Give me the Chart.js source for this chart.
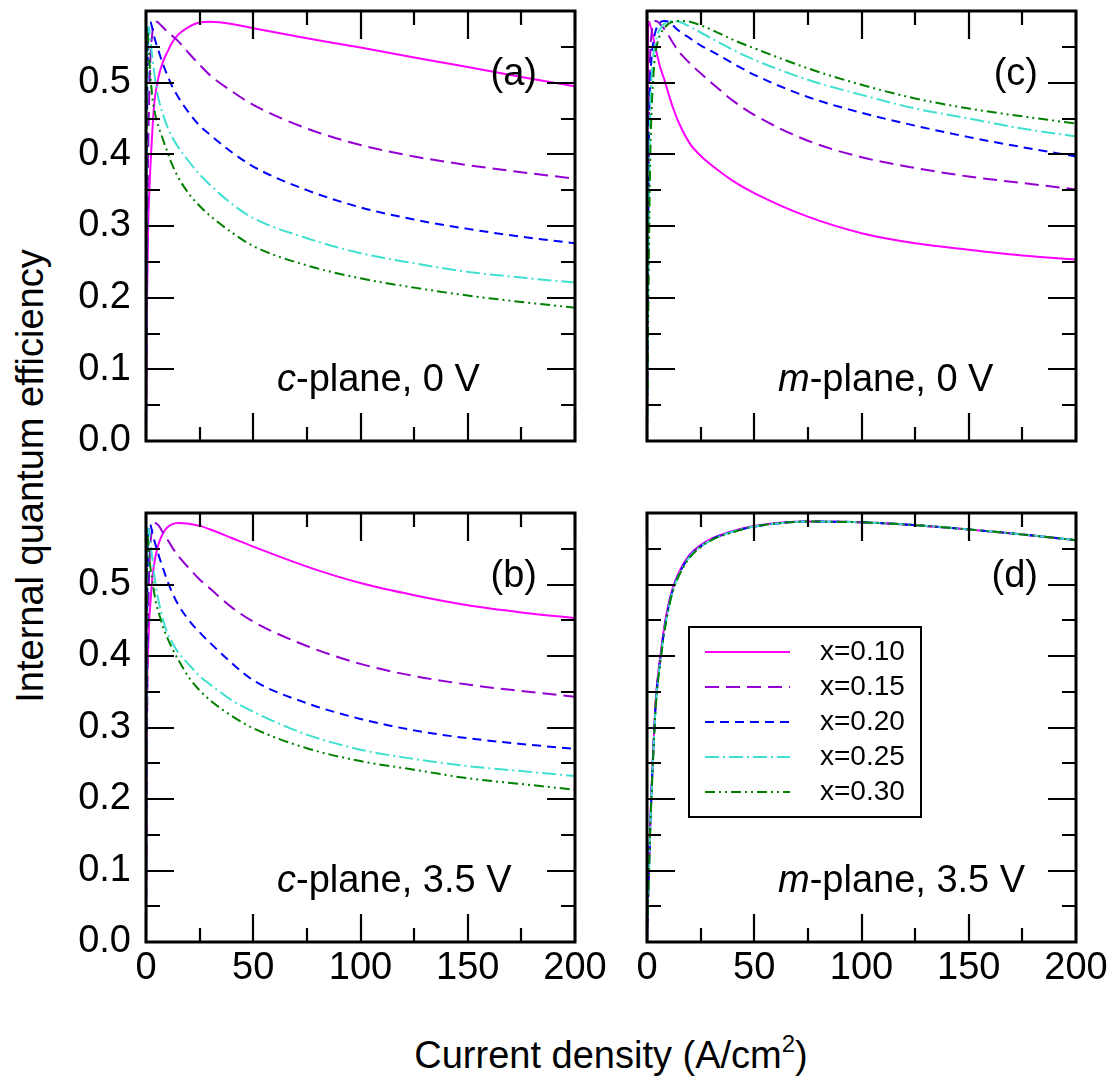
<!DOCTYPE html>
<html>
<head>
<meta charset="utf-8">
<script src="https://cdn.jsdelivr.net/npm/chart.js@4.4.1/dist/chart.umd.min.js"></script>
<style>
html, body { margin: 0; padding: 0; background: #fff; overflow: hidden; }
#wrap { position: relative; width: 1113px; height: 1085px; }
#wrap canvas { position: absolute; left: 0; top: 0; }
.title { position: absolute; font-family: 'Liberation Sans', Arial, Helvetica, sans-serif; font-size: 38px; color: #000; text-align: center; white-space: nowrap; line-height: 44px; }
#ytitle { left: -370px; top: 454px; width: 800px; transform: rotate(-90deg); }
#xtitle { left: 211px; top: 1033px; width: 800px; }
#xtitle sup { font-size: 24px; vertical-align: 16px; line-height: 0; }
</style>
</head>
<body>
<div id="wrap">
  <div id="ytitle" class="title">Internal quantum efficiency</div>
  <div id="xtitle" class="title">Current density (A/cm<sup>2</sup>)</div>
</div>
<script>
// current density grid (A/cm2), shared by every curve
var currentDensity = [0, 0.25, 0.5, 1, 1.5, 2, 3, 4, 5, 6, 8, 10, 12, 15, 20, 25, 30, 40, 50, 75, 100, 125, 150, 175, 200];

var seriesLabels = ['x=0.10', 'x=0.15', 'x=0.20', 'x=0.25', 'x=0.30'];

var xTickValues = [0, 50, 100, 150, 200];
var xTickLabels = ['0', '50', '100', '150', '200'];
var yTickValues = [0, 0.1, 0.2, 0.3, 0.4, 0.5];
var yTickLabels = ['0.0', '0.1', '0.2', '0.3', '0.4', '0.5'];

// (a) c-plane, 0 V
var cPlane0V_x10 = [0, 0.10, 0.20, 0.30, 0.345, 0.38, 0.435, 0.475, 0.495, 0.51, 0.53, 0.543, 0.555, 0.567, 0.578, 0.584, 0.585, 0.582, 0.576, 0.562, 0.549, 0.535, 0.522, 0.508, 0.495];
var cPlane0V_x15 = [0, 0.12, 0.25, 0.40, 0.48, 0.53, 0.57, 0.583, 0.585, 0.583, 0.577, 0.571, 0.566, 0.558, 0.541, 0.525, 0.51, 0.488, 0.469, 0.436, 0.413, 0.397, 0.385, 0.375, 0.366];
var cPlane0V_x20 = [0, 0.30, 0.45, 0.56, 0.583, 0.585, 0.575, 0.562, 0.552, 0.543, 0.525, 0.51, 0.496, 0.48, 0.458, 0.44, 0.427, 0.403, 0.383, 0.35, 0.326, 0.309, 0.296, 0.285, 0.276];
var cPlane0V_x25 = [0, 0.35, 0.50, 0.578, 0.575, 0.56, 0.535, 0.51, 0.49, 0.475, 0.455, 0.438, 0.425, 0.41, 0.39, 0.372, 0.357, 0.331, 0.311, 0.283, 0.262, 0.248, 0.236, 0.228, 0.221];
var cPlane0V_x30 = [0, 0.45, 0.575, 0.56, 0.535, 0.512, 0.478, 0.46, 0.447, 0.437, 0.42, 0.403, 0.387, 0.368, 0.345, 0.328, 0.314, 0.291, 0.272, 0.245, 0.227, 0.214, 0.203, 0.194, 0.186];

// (b) c-plane, 3.5 V
var cPlane35V_x10 = [0, 0.20, 0.35, 0.41, 0.45, 0.472, 0.51, 0.532, 0.547, 0.558, 0.572, 0.58, 0.584, 0.586, 0.585, 0.582, 0.577, 0.565, 0.553, 0.525, 0.502, 0.485, 0.471, 0.461, 0.453];
var cPlane35V_x15 = [0, 0.15, 0.30, 0.45, 0.52, 0.555, 0.578, 0.586, 0.585, 0.582, 0.572, 0.563, 0.553, 0.54, 0.523, 0.507, 0.494, 0.468, 0.448, 0.414, 0.389, 0.372, 0.36, 0.351, 0.343];
var cPlane35V_x20 = [0, 0.30, 0.45, 0.56, 0.585, 0.584, 0.572, 0.56, 0.55, 0.54, 0.522, 0.505, 0.49, 0.472, 0.45, 0.433, 0.418, 0.39, 0.366, 0.334, 0.312, 0.296, 0.285, 0.277, 0.27];
var cPlane35V_x25 = [0, 0.35, 0.50, 0.578, 0.575, 0.56, 0.535, 0.51, 0.49, 0.475, 0.45, 0.432, 0.42, 0.405, 0.388, 0.372, 0.36, 0.338, 0.322, 0.29, 0.269, 0.256, 0.246, 0.239, 0.232];
var cPlane35V_x30 = [0, 0.45, 0.575, 0.56, 0.54, 0.525, 0.505, 0.485, 0.47, 0.46, 0.44, 0.425, 0.412, 0.395, 0.37, 0.352, 0.338, 0.316, 0.299, 0.271, 0.253, 0.241, 0.229, 0.221, 0.213];

// (c) m-plane, 0 V
var mPlane0V_x10 = [0, 0.45, 0.58, 0.585, 0.58, 0.575, 0.562, 0.548, 0.535, 0.523, 0.505, 0.485, 0.466, 0.443, 0.415, 0.398, 0.385, 0.363, 0.346, 0.313, 0.29, 0.276, 0.267, 0.259, 0.253];
var mPlane0V_x15 = [0, 0.15, 0.30, 0.47, 0.54, 0.565, 0.582, 0.586, 0.585, 0.582, 0.575, 0.566, 0.556, 0.543, 0.527, 0.513, 0.50, 0.475, 0.455, 0.419, 0.396, 0.381, 0.369, 0.36, 0.351];
var mPlane0V_x20 = [0, 0.15, 0.28, 0.45, 0.50, 0.53, 0.558, 0.572, 0.58, 0.584, 0.586, 0.585, 0.58, 0.572, 0.562, 0.552, 0.544, 0.527, 0.511, 0.48, 0.458, 0.44, 0.424, 0.41, 0.397];
var mPlane0V_x25 = [0, 0.10, 0.20, 0.36, 0.46, 0.50, 0.538, 0.556, 0.568, 0.575, 0.582, 0.585, 0.586, 0.585, 0.578, 0.57, 0.562, 0.546, 0.532, 0.504, 0.483, 0.464, 0.45, 0.436, 0.425];
var mPlane0V_x30 = [0, 0.07, 0.15, 0.29, 0.39, 0.45, 0.51, 0.542, 0.557, 0.566, 0.576, 0.582, 0.585, 0.586, 0.585, 0.58, 0.574, 0.56, 0.548, 0.52, 0.497, 0.478, 0.464, 0.453, 0.443];

// (d) m-plane, 3.5 V
var mPlane35V_x10 = [0, 0.035, 0.065, 0.115, 0.165, 0.205, 0.275, 0.335, 0.37, 0.395, 0.44, 0.472, 0.495, 0.518, 0.542, 0.555, 0.564, 0.575, 0.582, 0.588, 0.587, 0.583, 0.577, 0.57, 0.562];
var mPlane35V_x15 = [0, 0.033, 0.062, 0.112, 0.162, 0.202, 0.272, 0.332, 0.367, 0.392, 0.437, 0.47, 0.493, 0.516, 0.541, 0.554, 0.563, 0.574, 0.581, 0.588, 0.587, 0.583, 0.577, 0.57, 0.562];
var mPlane35V_x20 = [0, 0.03, 0.06, 0.11, 0.16, 0.20, 0.27, 0.33, 0.365, 0.39, 0.435, 0.468, 0.492, 0.515, 0.54, 0.553, 0.563, 0.574, 0.581, 0.588, 0.587, 0.583, 0.577, 0.57, 0.562];
var mPlane35V_x25 = [0, 0.03, 0.058, 0.108, 0.158, 0.198, 0.268, 0.328, 0.363, 0.388, 0.433, 0.466, 0.491, 0.514, 0.539, 0.553, 0.562, 0.574, 0.581, 0.588, 0.587, 0.583, 0.577, 0.57, 0.562];
var mPlane35V_x30 = [0, 0.028, 0.056, 0.106, 0.156, 0.196, 0.266, 0.326, 0.361, 0.386, 0.431, 0.465, 0.49, 0.513, 0.538, 0.552, 0.562, 0.573, 0.581, 0.588, 0.587, 0.583, 0.577, 0.57, 0.562];

// styles
var seriesColors = ['#ff00ff', '#9400d3', '#0000ff', '#40e0d0', '#008000'];
var seriesDash = [[], [14, 7], [9, 6], [14, 4, 2, 4], [10, 4, 2, 4, 2, 4]];

var W = 1113, H = 1085;
var FONT = "'Liberation Sans', Arial, Helvetica, sans-serif";
var YW = 146, XH = 80;

var panels = [
    { area: { left: 146, top: 11, right: 575, bottom: 441 }, showX: false, showY: true,
      tag: '(a)', italic: 'c', rest: '-plane, 0 V',
      series: [cPlane0V_x10, cPlane0V_x15, cPlane0V_x20, cPlane0V_x25, cPlane0V_x30] },
    { area: { left: 647, top: 11, right: 1076, bottom: 441 }, showX: false, showY: false,
      tag: '(c)', italic: 'm', rest: '-plane, 0 V',
      series: [mPlane0V_x10, mPlane0V_x15, mPlane0V_x20, mPlane0V_x25, mPlane0V_x30] },
    { area: { left: 146, top: 513, right: 575, bottom: 942 }, showX: true, showY: true,
      tag: '(b)', italic: 'c', rest: '-plane, 3.5 V',
      series: [cPlane35V_x10, cPlane35V_x15, cPlane35V_x20, cPlane35V_x25, cPlane35V_x30] },
    { area: { left: 647, top: 513, right: 1076, bottom: 942 }, showX: true, showY: false, legend: true,
      tag: '(d)', italic: 'm', rest: '-plane, 3.5 V',
      series: [mPlane35V_x10, mPlane35V_x15, mPlane35V_x20, mPlane35V_x25, mPlane35V_x30] }
];

function findTick(list, v) {
    for (var i = 0; i < list.length; i++) {
        if (Math.abs(list[i] - v) < 1e-6) return i;
    }
    return -1;
}

function zeroPad(scale) {
    scale.paddingTop = 0; scale.paddingBottom = 0;
    scale.paddingLeft = 0; scale.paddingRight = 0;
}

function makeChart(p) {
    var canvas = document.createElement('canvas');
    canvas.width = W;
    canvas.height = H;
    document.getElementById('wrap').appendChild(canvas);
    var a = p.area;

    // frame, inward ticks, panel text and legend
    var framePlugin = {
        id: 'frame',
        afterDatasetsDraw: function(chart) {
            var ctx = chart.ctx, ca = chart.chartArea;
            var xs = chart.scales.x, ys = chart.scales.y;
            ctx.save();
            ctx.strokeStyle = '#000';
            ctx.lineWidth = 2.2;
            ctx.beginPath();
            xs.ticks.forEach(function(t) {
                var px = Math.round(xs.getPixelForValue(t.value));
                var len = Math.abs(t.value % 50) < 1e-6 ? 28 : 14;
                ctx.moveTo(px, ca.bottom); ctx.lineTo(px, ca.bottom - len);
                ctx.moveTo(px, ca.top); ctx.lineTo(px, ca.top + len);
            });
            ys.ticks.forEach(function(t) {
                var py = Math.round(ys.getPixelForValue(t.value));
                var r = t.value * 10;
                var len = Math.abs(r - Math.round(r)) < 1e-6 ? 28 : 14;
                ctx.moveTo(ca.left, py); ctx.lineTo(ca.left + len, py);
                ctx.moveTo(ca.right, py); ctx.lineTo(ca.right - len, py);
            });
            ctx.stroke();
            ctx.lineWidth = 3;
            ctx.strokeRect(ca.left, ca.top, ca.right - ca.left, ca.bottom - ca.top);

            ctx.fillStyle = '#000';
            ctx.textBaseline = 'alphabetic';
            ctx.font = '38px ' + FONT;
            ctx.textAlign = 'right';
            ctx.fillText(p.tag, ca.right - 38, ca.top + 74);

            ctx.textAlign = 'left';
            var x0 = ca.left + 131, yb = ca.bottom - 50;
            ctx.font = 'italic 38px ' + FONT;
            ctx.fillText(p.italic, x0, yb);
            var w = ctx.measureText(p.italic).width;
            ctx.font = '38px ' + FONT;
            ctx.fillText(p.rest, x0 + w, yb);

            if (p.legend) {
                var bx = ca.left + 42, by = ca.top + 114, bw = 232, bh = 190;
                ctx.fillStyle = '#fff';
                ctx.fillRect(bx, by, bw, bh);
                ctx.lineWidth = 2;
                ctx.strokeStyle = '#000';
                ctx.strokeRect(bx, by, bw, bh);
                ctx.font = '28px ' + FONT;
                ctx.textBaseline = 'middle';
                chart.data.datasets.forEach(function(ds, i) {
                    var ry = by + 25 + i * 35;
                    ctx.strokeStyle = ds.borderColor;
                    ctx.lineWidth = 2;
                    ctx.setLineDash(ds.borderDash);
                    ctx.beginPath();
                    ctx.moveTo(bx + 16, ry);
                    ctx.lineTo(bx + 101, ry);
                    ctx.stroke();
                    ctx.setLineDash([]);
                    ctx.fillStyle = '#000';
                    ctx.fillText(ds.label, bx + 131, ry);
                });
            }
            ctx.restore();
        }
    };

    return new Chart(canvas, {
        type: 'line',
        data: {
            datasets: p.series.map(function(ys, i) {
                return {
                    label: seriesLabels[i],
                    data: currentDensity.map(function(x, k) { return { x: x, y: ys[k] }; }),
                    borderColor: seriesColors[i],
                    borderDash: seriesDash[i],
                    borderWidth: 2,
                    pointRadius: 0,
                    fill: false,
                    cubicInterpolationMode: 'monotone',
                    order: seriesLabels.length - 1 - i
                };
            })
        },
        options: {
            responsive: false,
            animation: false,
            devicePixelRatio: 1,
            events: [],
            layout: { padding: { left: a.left - YW, top: a.top, right: W - a.right, bottom: H - a.bottom - XH } },
            plugins: { legend: { display: false }, tooltip: { enabled: false } },
            scales: {
                x: {
                    type: 'linear', min: 0, max: 200,
                    grid: { display: false, drawTicks: false },
                    border: { display: false },
                    ticks: {
                        display: p.showX, stepSize: 25, autoSkip: false, maxRotation: 0, padding: 4,
                        color: '#000', font: { family: FONT, size: 38 },
                        callback: function(v) {
                            var i = findTick(xTickValues, v);
                            return i >= 0 ? xTickLabels[i] : '';
                        }
                    },
                    afterFit: function(scale) { scale.height = XH; zeroPad(scale); }
                },
                y: {
                    min: 0, max: 0.6,
                    grid: { display: false, drawTicks: false },
                    border: { display: false },
                    ticks: {
                        display: p.showY, stepSize: 0.05, autoSkip: false, padding: 15,
                        color: '#000', font: { family: FONT, size: 38 },
                        callback: function(v) {
                            var i = findTick(yTickValues, v);
                            return i >= 0 ? yTickLabels[i] : '';
                        }
                    },
                    afterFit: function(scale) { scale.width = YW; zeroPad(scale); }
                }
            }
        },
        plugins: [framePlugin]
    });
}

panels.forEach(makeChart);
</script>
</body>
</html>
